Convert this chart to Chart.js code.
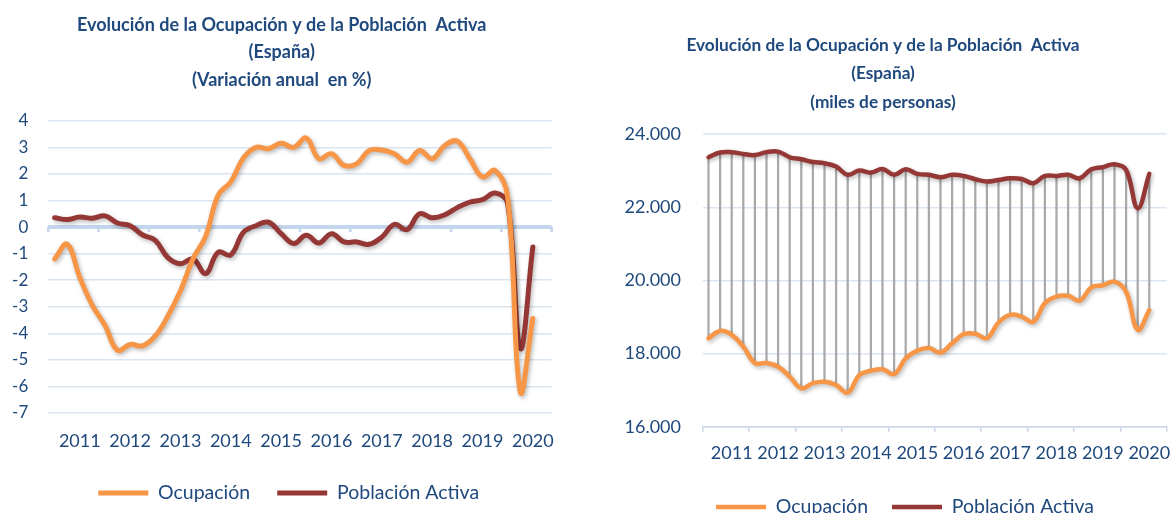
<!DOCTYPE html>
<html>
<head>
<meta charset="utf-8">
<script src="https://cdn.jsdelivr.net/npm/chart.js@4.4.1/dist/chart.umd.min.js"></script>
<style>
  html, body { margin: 0; padding: 0; background: #ffffff; }
  #wrap { position: relative; width: 1176px; height: 513px; overflow: hidden; }
  #c1 { position: absolute; left: 0; top: 0; }
  #c2 { position: absolute; left: 590px; top: 0; }
</style>
</head>
<body>
<div id="wrap">
  <canvas id="c1" width="590" height="513"></canvas>
  <canvas id="c2" width="586" height="513"></canvas>
</div>
<script>
// ---------- DATA ----------
const years = ['2011','2012','2013','2014','2015','2016','2017','2018','2019','2020'];
const quarters = ['T1','T2','T3','T4'];

// Variación anual en % (trimestral, 2011T1 - 2020T3)
const ocupacionVar = [-1.2, -0.65, -1.9, -2.95, -3.7, -4.64, -4.42, -4.47,
  -4.1, -3.35, -2.4, -1.2, -0.35, 1.2, 1.7, 2.6,
  3.0, 2.95, 3.15, 3.0, 3.35, 2.57, 2.76, 2.32,
  2.38, 2.88, 2.9, 2.76, 2.44, 2.88, 2.57, 3.07,
  3.23, 2.57, 1.88, 2.13, 1.13, -6.2, -3.44];
const activaVar = [0.35, 0.28, 0.38, 0.33, 0.42, 0.15, 0.05, -0.3,
  -0.5, -1.15, -1.38, -1.2, -1.75, -0.95, -1.05, -0.2,
  0.05, 0.18, -0.25, -0.62, -0.31, -0.6, -0.25, -0.56,
  -0.56, -0.65, -0.38, 0.1, -0.1, 0.5, 0.35, 0.46,
  0.73, 0.94, 1.03, 1.28, 0.88, -4.57, -0.75];

// Miles de personas
const ocupacionMiles = [18420, 18620, 18510, 18190, 17740, 17740, 17640, 17370,
  17050, 17190, 17230, 17140, 16930, 17410, 17530, 17570,
  17440, 17870, 18080, 18150, 18030, 18280, 18530, 18540,
  18420, 18850, 19060, 19010, 18870, 19380, 19560, 19580,
  19450, 19810, 19870, 19970, 19690, 18650, 19190];
const activaMiles = [23370, 23500, 23510, 23460, 23430, 23510, 23525, 23370,
  23315, 23240, 23205, 23115, 22890, 23005, 22950, 23050,
  22890, 23040, 22915, 22890, 22825, 22890, 22860, 22770,
  22705, 22750, 22795, 22775, 22660, 22860, 22860, 22890,
  22795, 23040, 23100, 23180, 23025, 21975, 22915];

const leftTicks = { min: -7, max: 4, step: 1 };
const rightTicks = { min: 16000, max: 24000, step: 2000 };

// categories: one per quarter (labels show the year)
const categories = [];
years.forEach(y => quarters.forEach(q => categories.push(y + q)));

// ---------- STYLE ----------
const ORANGE = '#F79646';
const BROWN = '#953735';
const TEXT = '#1F497D';
const GRID = '#DAE5F1';
const ZERO = '#C3D6EC';
const FONT = 'Lato';
Chart.defaults.font.family = FONT;
Chart.defaults.color = TEXT;

const yearLabel = (val, idx) => (idx % 4 === 2 ? years[Math.floor(idx / 4)] : '');
const thousands = v => String(v).replace(/\B(?=(\d{3})+(?!\d))/g, '.');

const lineShadow = {
  id: 'lineShadow',
  beforeDatasetDraw(chart, args) {
    if (args.meta.type !== 'line') return;
    const ctx = chart.ctx;
    ctx.save();
    ctx.shadowColor = 'rgba(0,0,0,0.28)';
    ctx.shadowBlur = 4;
    ctx.shadowOffsetX = 1.5;
    ctx.shadowOffsetY = 2;
  },
  afterDatasetDraw(chart, args) {
    if (args.meta.type !== 'line') return;
    chart.ctx.restore();
  }
};

const legendShift = {
  id: 'legendShift',
  afterLayout(chart, args, opts) {
    const l = chart.legend;
    if (!l || !opts || !opts.dx) return;
    l.left += opts.dx;
    l.right += opts.dx;
  }
};

// small tick marks on the zero axis line of the left chart
const zeroTicks = {
  id: 'zeroTicks',
  beforeDatasetsDraw(chart) {
    const xs = chart.scales.x, ys = chart.scales.y, ctx = chart.ctx;
    const y0 = ys.getPixelForValue(0);
    const half = (xs.getPixelForValue(1) - xs.getPixelForValue(0)) / 2;
    ctx.save();
    ctx.strokeStyle = ZERO;
    ctx.lineWidth = 2.5;
    for (let i = 0; i <= categories.length; i += 4) {
      const px = xs.getPixelForValue(i) - half;
      ctx.beginPath();
      ctx.moveTo(px, y0);
      ctx.lineTo(px, y0 + 5);
      ctx.stroke();
    }
    ctx.restore();
  }
};

// ---------- LEFT CHART ----------
new Chart(document.getElementById('c1'), {
  type: 'line',
  data: {
    labels: categories,
    datasets: [
      { label: 'Ocupación', data: ocupacionVar, borderColor: ORANGE, backgroundColor: ORANGE,
        borderWidth: 5, pointRadius: 0, tension: 0.4, borderCapStyle: 'round', borderJoinStyle: 'round' },
      { label: 'Población Activa', data: activaVar, borderColor: BROWN, backgroundColor: BROWN,
        borderWidth: 5, pointRadius: 0, tension: 0.4, borderCapStyle: 'round', borderJoinStyle: 'round' }
    ]
  },
  plugins: [lineShadow, legendShift, zeroTicks],
  options: {
    responsive: false,
    animation: false,
    layout: { padding: { left: 0, right: 26.6, top: 0, bottom: 0.25 } },
    plugins: {
      tooltip: { enabled: false },
      title: {
        display: true,
        text: ['Evolución de la Ocupación y de la Población  Activa', '(España)', '(Variación anual  en %)'],
        color: TEXT,
        font: { family: FONT, size: 18, weight: 'bold', lineHeight: 1.528 },
        padding: { top: 11.25, bottom: 27 }
      },
      legend: {
        position: 'bottom',
        labels: {
          usePointStyle: true, pointStyle: 'line', pointStyleWidth: 50,
          font: { family: FONT, size: 19.5 }, color: TEXT, padding: 27
        }
      },
      legendShift: { dx: 7 }
    },
    scales: {
      x: {
        offset: true,
        grid: { display: false, drawTicks: false },
        border: { display: false },
        ticks: { autoSkip: false, maxRotation: 0, minRotation: 0, padding: 17, callback: yearLabel,
                 font: { family: FONT, size: 18 }, color: TEXT },
        afterFit: s => { s.height = 43.25; }
      },
      y: {
        min: leftTicks.min, max: leftTicks.max,
        ticks: { stepSize: leftTicks.step, padding: 20, font: { family: FONT, size: 17 }, color: TEXT },
        grid: {
          drawTicks: false,
          color: c => (c.tick && c.tick.value === 0 ? ZERO : GRID),
          lineWidth: c => (c.tick && c.tick.value === 0 ? 4 : 1.5)
        },
        border: { display: false },
        afterFit: s => { s.width = 48.3; }
      },
      y2: {
        position: 'right', display: true,
        grid: { display: false, drawTicks: false }, border: { display: false },
        ticks: { display: false },
        afterFit: s => { s.width = 11.7; }
      }
    }
  }
});

// ---------- RIGHT CHART ----------
new Chart(document.getElementById('c2'), {
  type: 'line',
  data: {
    labels: categories,
    datasets: [
      { label: 'Ocupación', data: ocupacionMiles, borderColor: ORANGE, backgroundColor: ORANGE,
        borderWidth: 4.5, pointRadius: 0, tension: 0.4, order: 1, borderCapStyle: 'round', borderJoinStyle: 'round' },
      { label: 'Población Activa', data: activaMiles, borderColor: BROWN, backgroundColor: BROWN,
        borderWidth: 4.5, pointRadius: 0, tension: 0.4, order: 2, borderCapStyle: 'round', borderJoinStyle: 'round' },
      { type: 'bar', label: 'dif', data: ocupacionMiles.map((v, i) => [v, activaMiles[i]]),
        backgroundColor: '#A9A9A9', barThickness: 1.6, order: 10 }
    ]
  },
  plugins: [lineShadow, legendShift],
  options: {
    responsive: false,
    animation: false,
    layout: { padding: { left: 0, right: 0, top: 0, bottom: -13.75 } },
    plugins: {
      tooltip: { enabled: false },
      title: {
        display: true,
        text: ['Evolución de la Ocupación y de la Población  Activa', '(España)', '(miles de personas)'],
        color: TEXT,
        font: { family: FONT, size: 17.3, weight: 'bold', lineHeight: 1.647 },
        padding: { top: 30.75, bottom: 18 }
      },
      legend: {
        position: 'bottom',
        labels: {
          usePointStyle: true, pointStyle: 'line', pointStyleWidth: 50,
          font: { family: FONT, size: 19.5 }, color: TEXT, padding: 24,
          filter: item => item.datasetIndex < 2
        }
      },
      legendShift: { dx: 22 }
    },
    scales: {
      x: {
        offset: true,
        grid: {
          display: true, drawOnChartArea: false, drawTicks: true, tickLength: 5, offset: true,
          lineWidth: 1.5,
          color: c => (c.index === undefined || c.index % 4 === 0 ? '#C9D6E6' : 'rgba(0,0,0,0)')
        },
        border: { display: true, color: '#C9D6E6', width: 1.5 },
        ticks: { autoSkip: false, maxRotation: 0, minRotation: 0, padding: 10.5, callback: yearLabel,
                 font: { family: FONT, size: 18 }, color: TEXT },
        afterFit: s => { s.height = 46.55; }
      },
      y: {
        min: rightTicks.min, max: rightTicks.max,
        ticks: { stepSize: rightTicks.step, padding: 21.7, callback: v => thousands(v),
                 font: { family: FONT, size: 18 }, color: TEXT },
        grid: { drawTicks: false, color: GRID, lineWidth: 1.5 },
        border: { display: false },
        afterFit: s => { s.width = 112.7; }
      },
      y2: {
        position: 'right', display: true,
        grid: { display: false, drawTicks: false }, border: { display: false },
        ticks: { display: false },
        afterFit: s => { s.width = 9.3; }
      }
    }
  }
});
</script>
</body>
</html>
